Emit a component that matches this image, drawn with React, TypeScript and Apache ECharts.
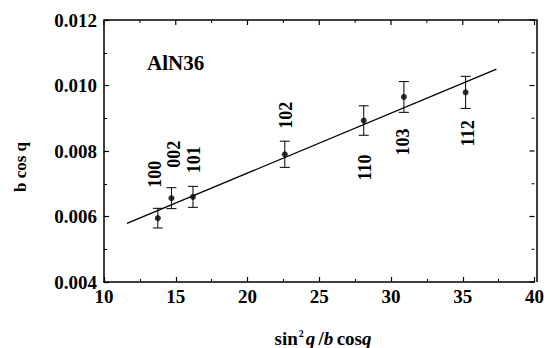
import React, { useEffect, useRef } from "react";
import * as echarts from "echarts";

const planes = ["100", "002", "101", "102", "110", "103", "112"];
const xValues = [13.75, 14.7, 16.2, 22.6, 28.1, 30.9, 35.2];
const yValues = [0.00595, 0.00656, 0.0066, 0.0079, 0.00893, 0.00965, 0.00979];
const yErrors = [0.0003, 0.00032, 0.00032, 0.0004, 0.00045, 0.00047, 0.00049];
const fitLine = [
  [11.6, 0.00579],
  [37.35, 0.0105],
];
const xTicks = [10, 15, 20, 25, 30, 35, 40];
const yTicks = [0.004, 0.006, 0.008, 0.01, 0.012];
// label offsets (px) relative to the point
const labelOffsets = [
  [-3, -44],
  [3, -44],
  [1, -37],
  [1, -39],
  [1, 47],
  [-1, 45],
  [2, 41],
];

const FONT = "'Liberation Serif', 'Times New Roman', serif";
const GRID = { left: 104, right: 10, top: 20, bottom: 66 };
const W = 547;
const H = 348;

export default function App() {
  const ref = useRef<HTMLDivElement>(null);
  useEffect(() => {
    if (!ref.current) return;
    const chart = echarts.init(ref.current, null, { renderer: "svg" });
    const xMin = xTicks[0];
    const xMax = xTicks[xTicks.length - 1];
    const yMin = yTicks[0];
    const yMax = yTicks[yTicks.length - 1];
    const mk = () => ({
      axisLine: { show: true, onZero: false, lineStyle: { color: "#000", width: 1.5 } },
      axisTick: { show: true, inside: true, length: 5, lineStyle: { color: "#000", width: 1.2 } },
      minorTick: { show: true, splitNumber: 2, length: 3, lineStyle: { color: "#000", width: 1 } },
      splitLine: { show: false },
    });
    const labelStyle = {
      fontFamily: FONT,
      fontWeight: "bold" as const,
      fontSize: 19,
      color: "#000",
    };
    const gx0 = GRID.left;
    const gx1 = W - GRID.right;
    const gy0 = GRID.top;
    const gy1 = H - GRID.bottom;
    chart.setOption({
      animation: false,
      backgroundColor: "#fff",
      grid: { ...GRID, containLabel: false },
      xAxis: {
        type: "value",
        min: xMin,
        max: xMax,
        interval: 5,
        position: "bottom",
        ...mk(),
        axisLabel: { ...labelStyle, margin: 5 },
      },
      yAxis: {
        type: "value",
        min: yMin,
        max: yMax,
        interval: 0.002,
        position: "left",
        ...mk(),
        axisLabel: {
          ...labelStyle,
          margin: 7,
          formatter: (v: number) => v.toFixed(3),
        },
      },
      graphic: [
        {
          type: "polyline",
          z: 100,
          silent: true,
          shape: { points: [[gx0, gy0], [gx1, gy0], [gx1, gy1]] },
          style: { stroke: "#000", lineWidth: 1.5, fill: null },
        },
        {
          type: "text",
          x: 147,
          y: 63,
          style: {
            text: "AlN36",
            fontFamily: FONT,
            fontWeight: "bold",
            fontSize: 21,
            fill: "#000",
            align: "left",
            verticalAlign: "middle",
          },
        },
        {
          type: "text",
          x: 20,
          y: 167,
          rotation: Math.PI / 2,
          style: {
            text: "b cos q",
            fontFamily: FONT,
            fontWeight: "bold",
            fontSize: 17,
            fill: "#000",
            align: "center",
            verticalAlign: "middle",
          },
        },
        {
          type: "text",
          x: 323,
          y: 338,
          style: {
            text: "{n|sin}{s|2}{i|q} {n|/}{i|b} {n|cos}{i|q}",
            align: "center",
            verticalAlign: "middle",
            rich: {
              n: { fontFamily: FONT, fontWeight: "bold", fontSize: 19, fill: "#000" },
              i: { fontFamily: FONT, fontWeight: "bold", fontStyle: "italic", fontSize: 19, fill: "#000" },
              s: { fontFamily: FONT, fontWeight: "bold", fontSize: 10, fill: "#000", verticalAlign: "top", padding: [0, 2, 8, 1] },
            },
          },
        },
      ],
      series: [
        {
          type: "line",
          data: fitLine,
          symbol: "none",
          lineStyle: { color: "#000", width: 1.3 },
          z: 2,
        },
        {
          type: "custom",
          data: xValues.map((x, i) => [x, yValues[i], yValues[i] - yErrors[i], yValues[i] + yErrors[i]]),
          renderItem: (params: any, api: any) => {
            const x = api.value(0);
            const lo = api.coord([x, api.value(2)]);
            const hi = api.coord([x, api.value(3)]);
            const cap = 5;
            const style = { stroke: "#000", lineWidth: 1 };
            return {
              type: "group",
              children: [
                { type: "line", shape: { x1: lo[0], y1: lo[1], x2: hi[0], y2: hi[1] }, style },
                { type: "line", shape: { x1: lo[0] - cap, y1: lo[1], x2: lo[0] + cap, y2: lo[1] }, style },
                { type: "line", shape: { x1: hi[0] - cap, y1: hi[1], x2: hi[0] + cap, y2: hi[1] }, style },
              ],
            };
          },
          z: 3,
        },
        {
          type: "scatter",
          data: xValues.map((x, i) => [x, yValues[i]]),
          symbol: "circle",
          symbolSize: 6,
          itemStyle: { color: "#000" },
          z: 4,
        },
        {
          type: "custom",
          data: xValues.map((x, i) => [x, yValues[i], i]),
          renderItem: (params: any, api: any) => {
            const p = api.coord([api.value(0), api.value(1)]);
            const idx = api.value(2);
            const off = labelOffsets[idx];
            return {
              type: "text",
              x: p[0] + off[0],
              y: p[1] + off[1],
              rotation: Math.PI / 2,
              style: {
                text: planes[idx],
                fontFamily: FONT,
                fontWeight: "bold",
                fontSize: 18,
                fill: "#000",
                align: "center",
                verticalAlign: "middle",
              },
            };
          },
          z: 5,
        },
        {
          // mirrored ticks on top and right edges
          type: "custom",
          clip: false,
          silent: true,
          data: xTicks.map((t, i) => [t, yTicks[Math.min(i, yTicks.length - 1)], i]),
          renderItem: (params: any, api: any) => {
            const i = api.value(2);
            const children: any[] = [];
            const tick = { stroke: "#000", lineWidth: 1.2 };
            const minor = { stroke: "#000", lineWidth: 1 };
            const t = xTicks[i];
            const px = api.coord([t, yMax])[0];
            const top = api.coord([xMin, yMax])[1];
            const right = api.coord([xMax, yMin])[0];
            children.push({ type: "line", shape: { x1: px, y1: top, x2: px, y2: top + 5 }, style: tick });
            if (i < xTicks.length - 1) {
              const mx = api.coord([(t + xTicks[i + 1]) / 2, yMax])[0];
              children.push({ type: "line", shape: { x1: mx, y1: top, x2: mx, y2: top + 3 }, style: minor });
            }
            if (i < yTicks.length) {
              const yt = yTicks[i];
              const py = api.coord([xMax, yt])[1];
              children.push({ type: "line", shape: { x1: right, y1: py, x2: right - 5, y2: py }, style: tick });
              if (i < yTicks.length - 1) {
                const my = api.coord([xMax, (yt + yTicks[i + 1]) / 2])[1];
                children.push({ type: "line", shape: { x1: right, y1: my, x2: right - 3, y2: my }, style: minor });
              }
            }
            return { type: "group", children };
          },
          z: 6,
        },
      ],
    });
    return () => chart.dispose();
  }, []);
  return (
    <div
      ref={ref}
      style={{ position: "fixed", left: 0, top: 0, width: W, height: H }}
    />
  );
}
